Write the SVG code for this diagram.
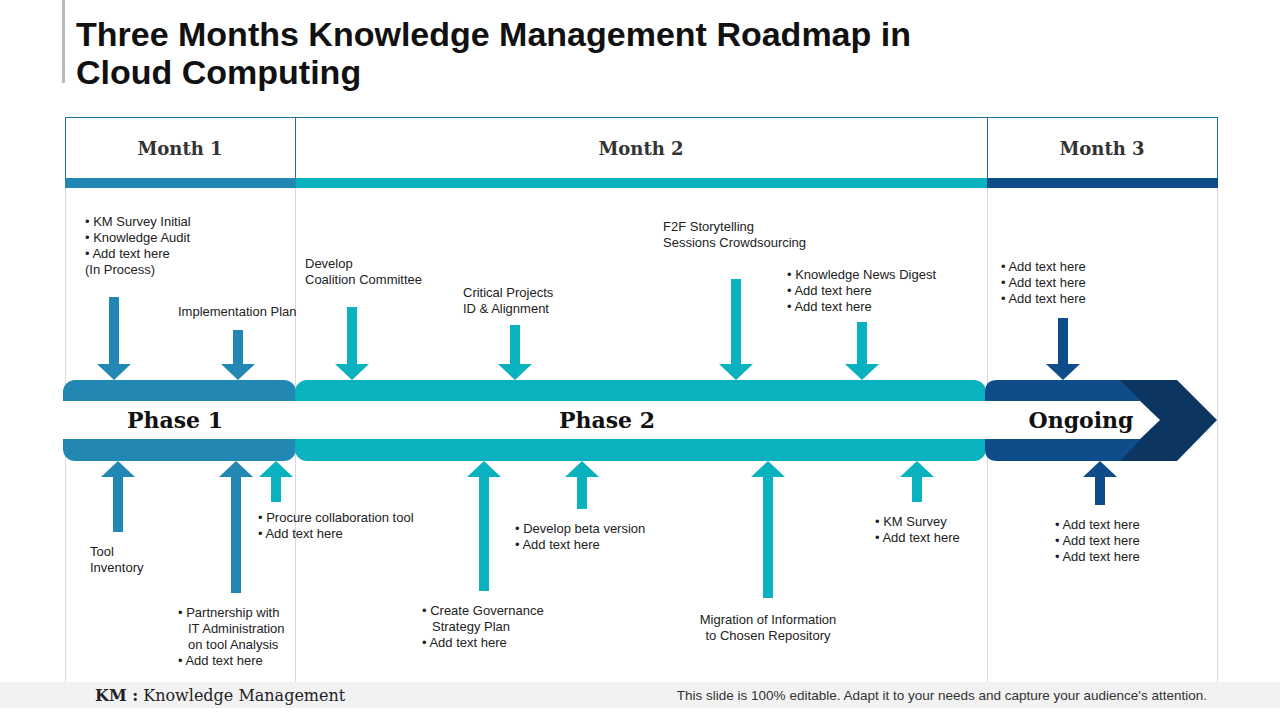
<svg xmlns="http://www.w3.org/2000/svg" width="1280" height="720" viewBox="0 0 1280 720">
<defs>
<style>
.t{font-family:"Liberation Sans",Arial,sans-serif;font-size:13px;fill:#222}
.h{font-family:"DejaVu Serif","Liberation Serif",serif;font-weight:bold;font-size:18px;fill:#333;text-anchor:middle}
.p{font-family:"DejaVu Serif","Liberation Serif",serif;font-weight:bold;font-size:22px;fill:#111;text-anchor:middle}
.g{stroke:#d9d9d9;stroke-width:1;fill:none}
.c1{fill:#2288b3}.c2{fill:#0ab2bf}.c3{fill:#0f4d8a}
</style>
</defs>
<rect width="1280" height="720" fill="#fff"/>
<rect x="62" y="0" width="3" height="83" fill="#bbb"/>
<text x="76" y="46" font-family="Liberation Sans,Arial,sans-serif" font-weight="bold" font-size="34" fill="#111">Three Months Knowledge Management Roadmap in</text>
<text x="76" y="84" font-family="Liberation Sans,Arial,sans-serif" font-weight="bold" font-size="34" fill="#111">Cloud Computing</text>
<g id="grid">
<line class="g" x1="65.5" y1="117" x2="65.5" y2="682"/>
<line class="g" x1="295.5" y1="117" x2="295.5" y2="682"/>
<line class="g" x1="987.5" y1="117" x2="987.5" y2="682"/>
<line class="g" x1="1217.5" y1="117" x2="1217.5" y2="682"/>
<rect x="65.5" y="117.5" width="1152" height="61" fill="none" stroke="#1f6e9e" stroke-width="1"/>
<line x1="295.5" y1="117" x2="295.5" y2="178" stroke="#1f6e9e"/>
<line x1="987.5" y1="117" x2="987.5" y2="178" stroke="#1f6e9e"/>
<rect class="c1" x="65" y="178" width="231" height="10"/>
<rect class="c2" x="296" y="178" width="691" height="10"/>
<rect class="c3" x="987" y="178" width="231" height="10"/>
<text class="h" x="180" y="155">Month 1</text>
<text class="h" x="641" y="155">Month 2</text>
<text class="h" x="1102" y="155">Month 3</text>
</g>
<g id="phase1"><rect class="c1" x="63" y="380" width="233" height="81" rx="12"/></g>
<g id="phase2"><rect class="c2" x="295" y="380" width="691" height="81" rx="12"/></g>
<g id="ongoing">
<path class="c3" d="M997 380 H1160 V461 H997 Q985 461 985 449 V392 Q985 380 997 380Z"/>
<polygon points="1120,380 1177,380 1217,420 1177,461 1120,461 1160,420" fill="#0c3560"/>
</g>
<path d="M63 401 H1140 L1160 420 L1140 439 H63Z" fill="#fff"/>
<text class="p" x="175" y="428">Phase 1</text>
<text class="p" x="607" y="428">Phase 2</text>
<text class="p" x="1081" y="428">Ongoing</text>
<g id="connectors">
<path class="c1" d="M109 297h10v67h12l-17 16l-17-16h12z"/>
<path class="c1" d="M233 330h10v34h12l-17 16l-17-16h12z"/>
<path class="c2" d="M347 307h10v57h12l-17 16l-17-16h12z"/>
<path class="c2" d="M510 325h10v39h12l-17 16l-17-16h12z"/>
<path class="c2" d="M731 279h10v85h12l-17 16l-17-16h12z"/>
<path class="c2" d="M857 322h10v42h12l-17 16l-17-16h12z"/>
<path class="c3" d="M1058 318h10v46h12l-17 16l-17-16h12z"/>
<path class="c1" d="M113 532h10v-55h12l-17-16l-17 16h12z"/>
<path class="c1" d="M231 593h10v-116h12l-17-16l-17 16h12z"/>
<path class="c2" d="M271 502h10v-25h12l-17-16l-17 16h12z"/>
<path class="c2" d="M479 591h10v-114h12l-17-16l-17 16h12z"/>
<path class="c2" d="M577 509h10v-32h12l-17-16l-17 16h12z"/>
<path class="c2" d="M763 598h10v-121h12l-17-16l-17 16h12z"/>
<path class="c2" d="M912 502h10v-25h12l-17-16l-17 16h12z"/>
<path class="c3" d="M1095 505h10v-28h12l-17-16l-17 16h12z"/>
</g>
<g class="t">
<text x="85" y="226">• KM Survey Initial</text>
<text x="85" y="242">• Knowledge Audit</text>
<text x="85" y="258">• Add text here</text>
<text x="85" y="274">(In Process)</text>
<text x="178" y="316">Implementation Plan</text>
<text x="305" y="268">Develop</text>
<text x="305" y="284">Coalition Committee</text>
<text x="463" y="297">Critical Projects</text>
<text x="463" y="313">ID &amp; Alignment</text>
<text x="663" y="231">F2F Storytelling</text>
<text x="663" y="247">Sessions Crowdsourcing</text>
<text x="787" y="279">• Knowledge News Digest</text>
<text x="787" y="295">• Add text here</text>
<text x="787" y="311">• Add text here</text>
<text x="1001" y="271">• Add text here</text>
<text x="1001" y="287">• Add text here</text>
<text x="1001" y="303">• Add text here</text>
<text x="90" y="556">Tool</text>
<text x="90" y="572">Inventory</text>
<text x="258" y="522">• Procure collaboration tool</text>
<text x="258" y="538">• Add text here</text>
<text x="178" y="617">• Partnership with</text>
<text x="188" y="633">IT Administration</text>
<text x="188" y="649">on tool Analysis</text>
<text x="178" y="665">• Add text here</text>
<text x="515" y="533">• Develop  beta version</text>
<text x="515" y="549">• Add text here</text>
<text x="422" y="615">• Create Governance</text>
<text x="432" y="631">Strategy Plan</text>
<text x="422" y="647">• Add text here</text>
<text x="768" y="624" text-anchor="middle">Migration of Information</text>
<text x="768" y="640" text-anchor="middle">to Chosen Repository</text>
<text x="875" y="526">• KM Survey</text>
<text x="875" y="542">• Add text here</text>
<text x="1055" y="529">• Add text here</text>
<text x="1055" y="545">• Add text here</text>
<text x="1055" y="561">• Add text here</text>
</g>
<rect x="0" y="682" width="1280" height="26" fill="#f2f2f2"/>
<text x="95" y="701" font-family="DejaVu Serif,Liberation Serif,serif" font-size="16" fill="#222"><tspan font-weight="bold">KM :</tspan> Knowledge Management</text>
<text x="1207" y="700" text-anchor="end" font-family="Liberation Sans,Arial,sans-serif" font-size="13.5" fill="#333">This slide is 100% editable. Adapt it to your needs and capture your audience's attention.</text>
</svg>
